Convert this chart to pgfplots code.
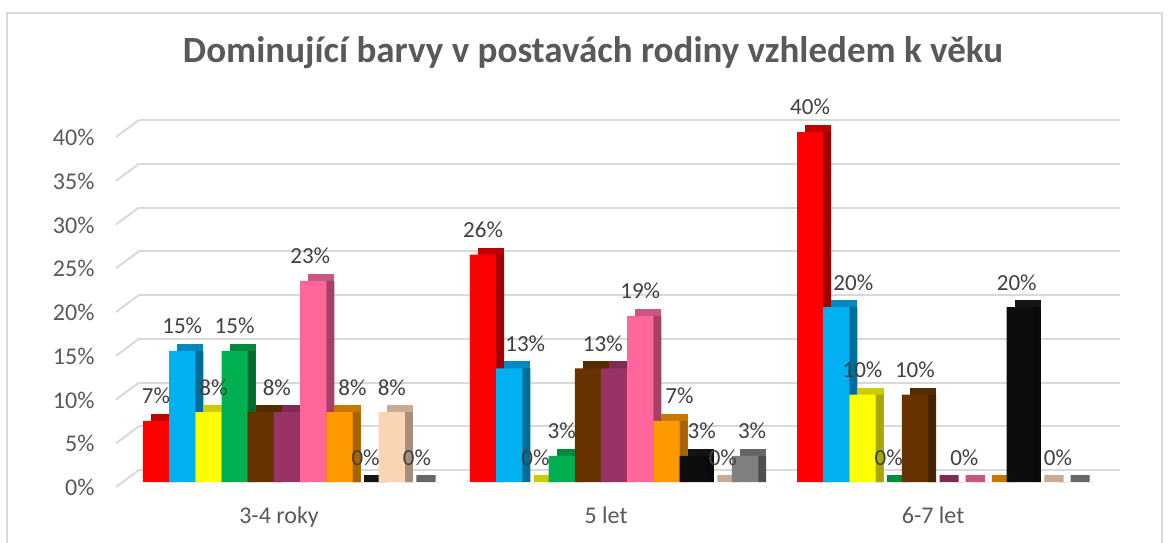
\documentclass[border=0pt]{standalone}
\usepackage{fontspec}
\setmainfont{Carlito}
\usepackage{pgfplots}
\usepackage{pgfplotstable}
\pgfplotsset{compat=1.18}

\definecolor{txt}{HTML}{595959}
\definecolor{lbl}{HTML}{404040}
\definecolor{gridc}{HTML}{D9D9D9}
\definecolor{cRed}{HTML}{FF0000}\definecolor{tRedc}{HTML}{C00000}\definecolor{sRed}{HTML}{A00000}
\definecolor{cBlue}{HTML}{00B0F0}\definecolor{tBluec}{HTML}{0088C0}\definecolor{sBlue}{HTML}{006C99}
\definecolor{cYellow}{HTML}{FFFF00}\definecolor{tYellowc}{HTML}{CCCC00}\definecolor{sYellow}{HTML}{A8A800}
\definecolor{cGreen}{HTML}{00B050}\definecolor{tGreenc}{HTML}{008A3C}\definecolor{sGreen}{HTML}{006B2E}
\definecolor{cBrown}{HTML}{663300}\definecolor{tBrownc}{HTML}{542A00}\definecolor{sBrown}{HTML}{452200}
\definecolor{cMaroon}{HTML}{993366}\definecolor{tMaroonc}{HTML}{7E2A54}\definecolor{sMaroon}{HTML}{6A2346}
\definecolor{cPink}{HTML}{FF6699}\definecolor{tPinkc}{HTML}{C85582}\definecolor{sPink}{HTML}{A54066}
\definecolor{cOrange}{HTML}{FF9900}\definecolor{tOrangec}{HTML}{C87800}\definecolor{sOrange}{HTML}{A86400}
\definecolor{cBlack}{HTML}{0D0D0D}\definecolor{tBlackc}{HTML}{141414}\definecolor{sBlack}{HTML}{0A0A0A}
\definecolor{cPeach}{HTML}{FBD4B4}\definecolor{tPeachc}{HTML}{C9AA92}\definecolor{sPeach}{HTML}{A88E7A}
\definecolor{cGray}{HTML}{808080}\definecolor{tGrayc}{HTML}{666666}\definecolor{sGray}{HTML}{505050}

% columns: g = age group (0: 3-4 roky, 1: 5 let, 2: 6-7 let), v = value in %,
% s = label shown (1/0), dx = label offset in pt
\pgfplotstableread{
g v s dx
0 7 1 0
1 26 1 0
2 40 1 0
}\tRed
\pgfplotstableread{
g v s dx
0 15 1 0
1 13 1 16
2 20 1 17
}\tBlue
\pgfplotstableread{
g v s dx
0 8 1 5
1 0 1 0
2 10 1 0
}\tYellow
\pgfplotstableread{
g v s dx
0 15 1 0
1 3 1 0
2 0 1 0
}\tGreen
\pgfplotstableread{
g v s dx
0 8 1 16
1 13 1 15
2 10 1 0
}\tBrown
\pgfplotstableread{
g v s dx
0 8 0 0
1 13 0 0
2 0 0 0
}\tMaroon
\pgfplotstableread{
g v s dx
0 23 1 -3
1 19 1 0
2 0 1 -3
}\tPink
\pgfplotstableread{
g v s dx
0 8 1 13
1 7 1 13
2 0 0 0
}\tOrange
\pgfplotstableread{
g v s dx
0 0 1 0
1 3 1 9
2 20 1 -3
}\tBlack
\pgfplotstableread{
g v s dx
0 8 1 0
1 0 1 4
2 0 1 12
}\tPeach
\pgfplotstableread{
g v s dx
0 0 1 -1
1 3 1 7
2 0 0 0
}\tGray

% #1 table, #2 front shift, #3 back shift, #4 side shift,
% #5 front colour, #6 top colour, #7 side colour
\newcommand{\series}[7]{%
  \addplot[ybar, bar width=19.2pt, bar shift=#3pt, yshift=3.5pt,
    fill=#6, draw=#6, line width=7pt, forget plot]
    table[x=g, y=v]{#1};
  \addplot[ybar, bar width=8pt, bar shift=#4pt, fill=#7, draw=none, forget plot]
    table[x=g, y=v]{#1};
  \addplot[ybar, bar width=26.2pt, bar shift=#2pt, fill=#5, draw=none,
    visualization depends on={\thisrow{s} \as \lblop},
    visualization depends on={\thisrow{dx} \as \lbldx},
    nodes near coords={\ifdim\lblop pt>0.5pt \pgfmathprintnumber{\pgfplotspointmeta}\%\fi},
    every node near coord/.append style={anchor=base, yshift=17pt,
      xshift=#2pt, xshift=\lbldx pt, text=lbl,
      font=\fontsize{23}{27}\selectfont}]
    table[x=g, y=v]{#1};
}

\begin{document}
\begin{tikzpicture}
\useasboundingbox (0,0) rectangle (1169pt,542pt);
\fill[white] (0,0) rectangle (1169pt,542pt);
\draw[gridc, line width=1.5pt] (7pt,-5pt) -- (7pt,529pt) -- (1162pt,529pt) -- (1162pt,-5pt);
\node[anchor=base, text=txt, font=\bfseries\fontsize{37}{44}\selectfont]
  at (593pt,479pt) {Dominující barvy v postavách rodiny vzhledem k věku};
\foreach \k in {0,...,8}
  \draw[gridc, line width=2pt] (116pt,{60pt+43.75pt*\k-5pt}) -- (139pt,{60pt+43.75pt*\k+12pt});
\begin{axis}[
  at={(139pt,60pt)}, anchor=south west,
  scale only axis, width=981pt, height=350pt,
  xmin=-0.4526, xmax=2.547, ymin=0, ymax=40,
  clip=false,
  axis line style={draw=none},
  tick style={draw=none},
  /pgf/number format/assume math mode=true,
  ytick={0,5,...,40},
  yticklabel={\pgfmathprintnumber{\tick}\%},
  yticklabel style={anchor=base east, xshift=-41pt, yshift=-13.5pt,
    text=txt, font=\fontsize{24}{28}\selectfont},
  xtick={0,1,2},
  xticklabels={3-4 roky, 5 let, 6-7 let},
  xticklabel style={anchor=base, xshift=-8pt, yshift=-41pt,
    text=txt, font=\fontsize{24}{28}\selectfont},
  ymajorgrids,
  major grid style={draw=gridc, line width=2pt, yshift=12pt},
]
\series{\tRed}{-131}{-123}{-113.9}{cRed}{tRedc}{sRed}
\series{\tBlue}{-104.8}{-96.8}{-87.7}{cBlue}{tBluec}{sBlue}
\series{\tYellow}{-78.6}{-70.6}{-61.5}{cYellow}{tYellowc}{sYellow}
\series{\tGreen}{-52.4}{-44.4}{-35.3}{cGreen}{tGreenc}{sGreen}
\series{\tBrown}{-26.2}{-18.2}{-9.1}{cBrown}{tBrownc}{sBrown}
\series{\tMaroon}{0}{8}{17.1}{cMaroon}{tMaroonc}{sMaroon}
\series{\tPink}{26.2}{34.2}{43.3}{cPink}{tPinkc}{sPink}
\series{\tOrange}{52.4}{60.4}{69.5}{cOrange}{tOrangec}{sOrange}
\series{\tBlack}{78.6}{86.6}{95.7}{cBlack}{tBlackc}{sBlack}
\series{\tPeach}{104.8}{112.8}{121.9}{cPeach}{tPeachc}{sPeach}
\series{\tGray}{131}{139}{148.1}{cGray}{tGrayc}{sGray}
\end{axis}
\end{tikzpicture}
\end{document}
